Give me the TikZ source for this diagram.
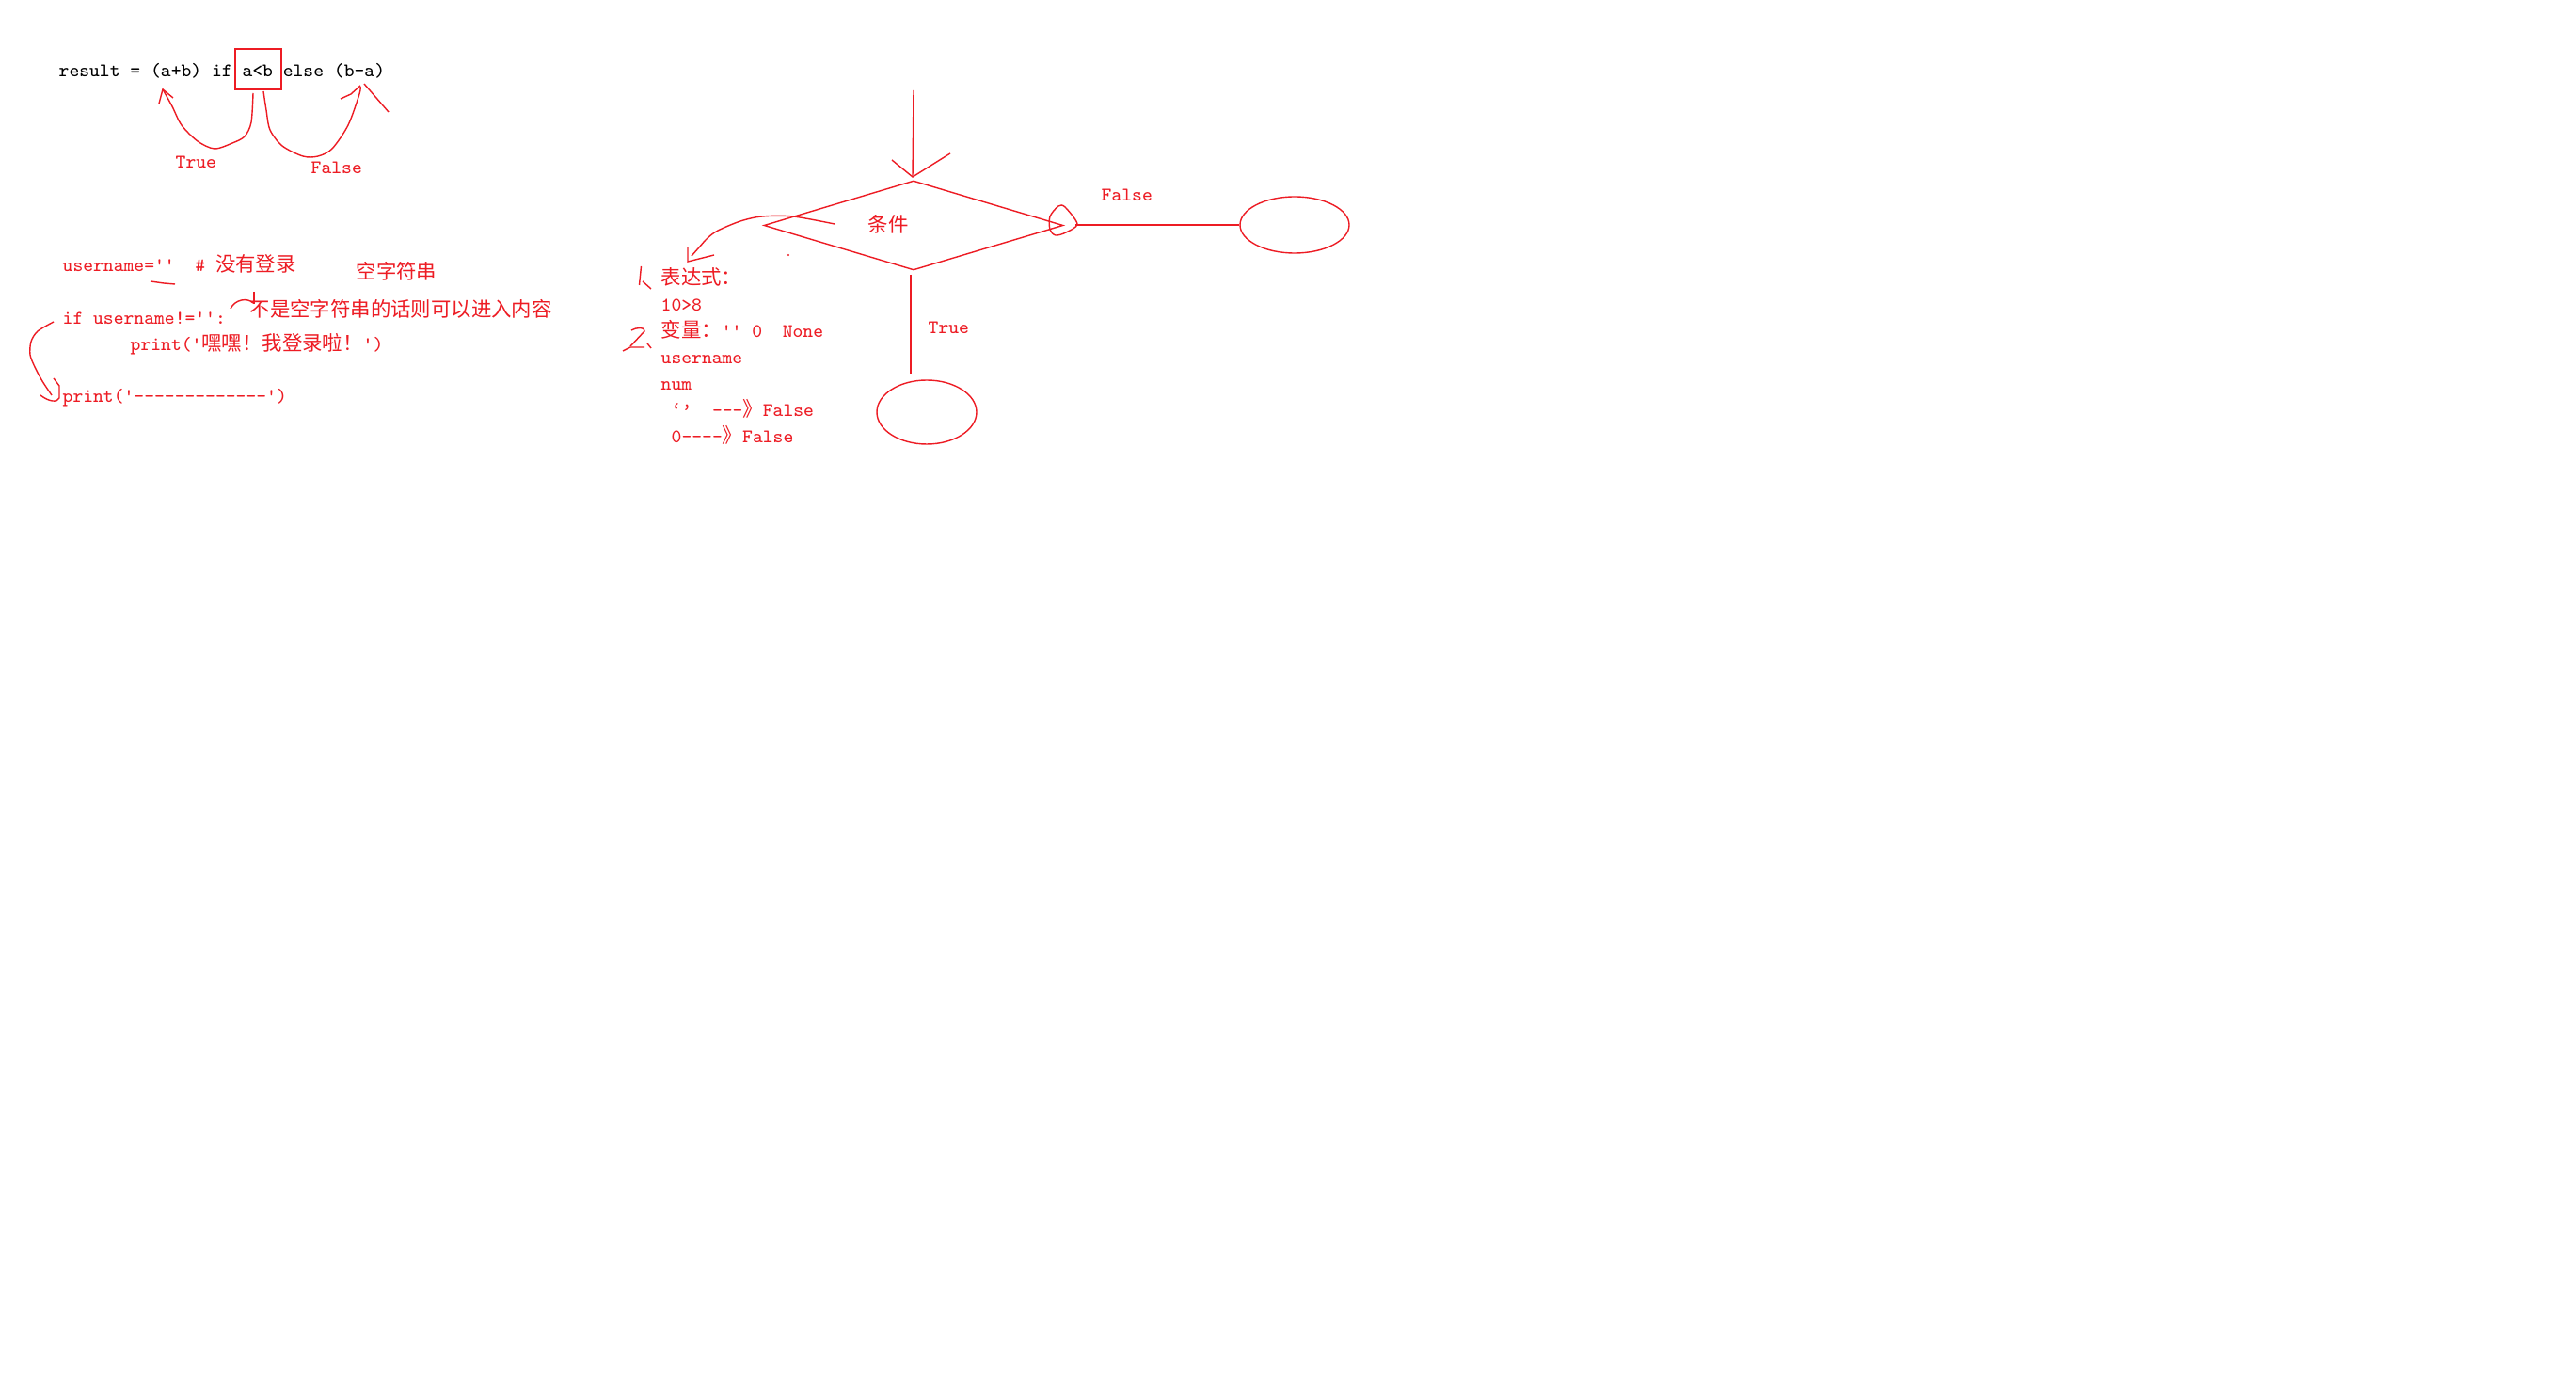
\documentclass[tikz,border=0pt]{standalone}
\usepackage{fontspec}
\newfontfamily\cjk[Scale=1.05]{Noto Sans CJK SC}
\usepackage{tikz}
\usetikzlibrary{shapes.geometric}
\definecolor{paintRed}{HTML}{ED1C24}
\tikzset{
  ink/.style={draw=paintRed, line width=0.4pt},
  codetxt/.style={font=\ttfamily\fontsize{5.8pt}{7pt}\selectfont,
    inner sep=0pt, anchor=base west},
  redtxt/.style={codetxt, text=paintRed},
  decision/.style={diamond, draw=paintRed, line width=0.4pt, inner sep=0pt,
    minimum width=3.18cm, minimum height=0.95cm},
  endpoint/.style={ellipse, draw=paintRed, line width=0.4pt, inner sep=0pt},
}

\begin{document}
\begin{tikzpicture}
  \useasboundingbox (0,0) rectangle (27.38,-14.76);
  \fill[white] (0,0) rectangle (27.38,-14.76);
  % conditional expression
  \node[codetxt] (expr) at (0.62,-0.82) {result = (a+b) if a<b else (b-a)};
  \node[draw=paintRed, line width=0.4pt, inner sep=0pt,
        minimum width=0.49cm, minimum height=0.43cm] (condbox) at (2.745,-0.735) {};
  \draw[ink] plot[smooth] coordinates {(2.69,-0.99) (2.67,-1.30) (2.60,-1.45)
    (2.47,-1.52) (2.28,-1.58) (2.10,-1.50) (1.93,-1.33) (1.83,-1.13) (1.73,-0.95)};
  \draw[ink] (1.69,-1.10) -- (1.73,-0.95) -- (1.84,-1.04);
  \draw[ink] plot[smooth] coordinates {(2.80,-0.97) (2.83,-1.17) (2.87,-1.38)
    (3.00,-1.55) (3.22,-1.66) (3.38,-1.66) (3.53,-1.58) (3.70,-1.33) (3.82,-1.00) (3.83,-0.92)};
  \draw[ink] (3.62,-1.05) -- (3.73,-1.00) -- (3.83,-0.91);
  \draw[ink] (3.87,-0.89) -- (4.13,-1.19);
  \node[redtxt] (truelbl) at (1.86,-1.79) {True};
  \node[redtxt] (falselbl) at (3.30,-1.85) {False};

  % empty string check
  \node[redtxt] (uname) at (0.66,-2.89) {username=''~~\#~{\cjk 没有登录}};
  \node[redtxt] (emptystr) at (3.78,-2.97) {\cjk 空字符串};
  \draw[ink] (1.60,-2.99) -- (1.74,-3.01) -- (1.86,-3.02);
  \node[redtxt] (note) at (2.65,-3.37) {\cjk 不是空字符串的话则可以进入内容};
  \draw[ink] (2.45,-3.28) .. controls (2.50,-3.18) and (2.63,-3.16) .. (2.69,-3.22);
  \draw[ink] (2.70,-3.10) -- (2.70,-3.23);
  \node[redtxt] (ifline) at (0.66,-3.45) {if username!='':};
  \node[redtxt] (printa) at (1.38,-3.73) {print('{\cjk 嘿嘿！我登录啦！}')};
  \node[redtxt] (printb) at (0.66,-4.28) {print('-------------')};
  \draw[ink] plot[smooth] coordinates {(0.57,-3.42) (0.40,-3.52) (0.33,-3.63)
    (0.32,-3.77) (0.37,-3.90) (0.45,-4.05) (0.55,-4.20)};
  \draw[ink] (0.57,-4.02) -- (0.63,-4.10) -- (0.63,-4.23)
    .. controls (0.61,-4.28) and (0.52,-4.27) .. (0.43,-4.20);

  % flow chart
  \coordinate (entry) at (9.71,-0.96);
  \coordinate (entrytip) at (9.70,-1.88);
  \draw[ink] (entry) -- (entrytip);
  \draw[ink] (9.48,-1.70) -- (entrytip) -- (10.10,-1.63);
  \node[decision] (dia) at (9.71,-2.395) {};
  \node[redtxt] (condlbl) at (9.22,-2.47) {\cjk 条件};
  \node[endpoint, minimum width=1.16cm, minimum height=0.60cm] (falseend) at (13.76,-2.39) {};
  \node[endpoint, minimum width=1.06cm, minimum height=0.68cm] (trueend) at (9.85,-4.38) {};
  \draw[ink] plot[smooth cycle] coordinates {(11.16,-2.30) (11.25,-2.19) (11.32,-2.20)
    (11.45,-2.38) (11.33,-2.47) (11.22,-2.50) (11.16,-2.44)};
  \draw[ink] (11.43,-2.39) -- (falseend.west);
  \coordinate (truetop) at (9.68,-3.97);
  \draw[ink] (9.68,-2.92) -- (truetop);
  \node[redtxt] (falseflow) at (11.70,-2.14) {False};
  \node[redtxt] (trueflow) at (9.86,-3.55) {True};
  \draw[ink] plot[smooth] coordinates {(8.87,-2.38) (8.43,-2.30) (8.10,-2.30)
    (7.87,-2.35) (7.63,-2.45) (7.52,-2.53) (7.43,-2.63) (7.35,-2.72)};
  \draw[ink] (7.31,-2.63) -- (7.31,-2.78) -- (7.59,-2.71);
  \fill[paintRed] (8.38,-2.71) circle (0.012);

  % what counts as a condition
  \draw[ink] (6.815,-2.83) -- (6.795,-3.03);
  \draw[ink] (6.83,-2.99) -- (6.92,-3.07);
  \node[redtxt] (exprhead) at (7.02,-3.03) {\cjk 表达式：};
  \node[redtxt] (cmp) at (7.02,-3.31) {10>8};
  \draw[ink] (6.71,-3.51) .. controls (6.76,-3.48) and (6.86,-3.47) .. (6.85,-3.52)
    -- (6.70,-3.68);
  \draw[ink] (6.62,-3.73) -- (6.70,-3.69) -- (6.85,-3.69);
  \draw[ink] (6.88,-3.65) -- (6.92,-3.70);
  \node[redtxt] (varhead) at (7.02,-3.59) {{\cjk 变量：}''~0~~None};
  \node[redtxt] (varname) at (7.02,-3.87) {username};
  \node[redtxt] (varnum) at (7.02,-4.15) {num};
  \node[redtxt] (emptyfalse) at (7.13,-4.43) {‘’~~---{\cjk 》}False};
  \node[redtxt] (zerofalse) at (7.13,-4.71) {0----{\cjk 》}False};
\end{tikzpicture}
\end{document}
